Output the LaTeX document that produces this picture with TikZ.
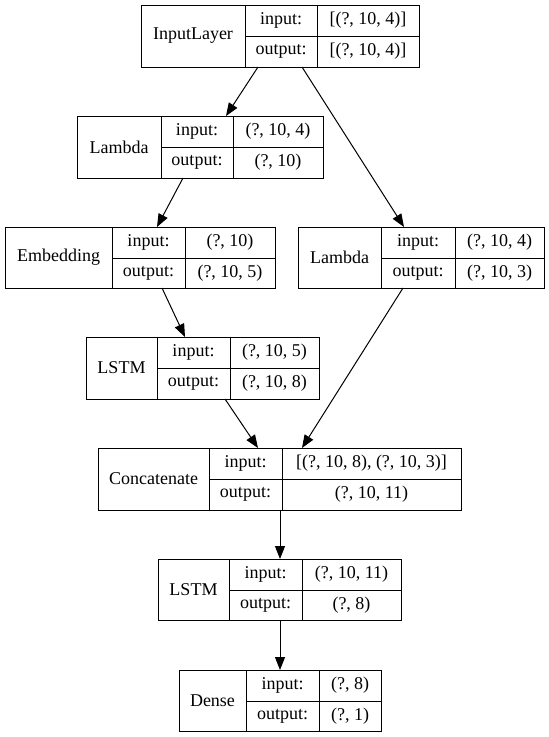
\documentclass[tikz,border=0pt]{standalone}
\usepackage{fontspec}
\setmainfont{Liberation Serif}
\usetikzlibrary{arrows.meta}
\tikzset{
  cellbox/.style={draw=black, line width=1pt, inner sep=0pt, outer sep=0pt,
    font=\fontsize{18}{21}\selectfont, anchor=center},
  conn/.style={draw=black, line width=1pt, -{Triangle[length=13pt,width=10pt]}}
}
\newcommand{\cell}[6]{\node[cellbox, minimum width={#4-#2}, minimum height={#5-#3}] (#1) at ({(#2+#4)/2},{(#3+#5)/2}) {#6};}
\begin{document}
\begin{tikzpicture}[x=1pt,y=-1pt]
\useasboundingbox (0,0) rectangle (549,737);
% InputLayer
\cell{inp-n}{141}{5}{245}{67}{InputLayer}
\cell{inp-li}{245}{5}{317}{36}{input:}
\cell{inp-lo}{245}{36}{317}{67}{output:}
\cell{inp-vi}{317}{5}{419}{36}{[(?, 10, 4)]}
\cell{inp-vo}{317}{36}{419}{67}{[(?, 10, 4)]}
% Lambda 1
\cell{lam1-n}{77}{116}{161}{178}{Lambda}
\cell{lam1-li}{161}{116}{233}{147}{input:}
\cell{lam1-lo}{161}{147}{233}{178}{output:}
\cell{lam1-vi}{233}{116}{323}{147}{(?, 10, 4)}
\cell{lam1-vo}{233}{147}{323}{178}{(?, 10)}
% Embedding
\cell{emb-n}{5}{227}{112}{288}{Embedding}
\cell{emb-li}{112}{227}{185}{258}{input:}
\cell{emb-lo}{112}{258}{185}{288}{output:}
\cell{emb-vi}{185}{227}{275}{258}{(?, 10)}
\cell{emb-vo}{185}{258}{275}{288}{(?, 10, 5)}
% Lambda 2
\cell{lam2-n}{298}{227}{381}{288}{Lambda}
\cell{lam2-li}{381}{227}{455}{258}{input:}
\cell{lam2-lo}{381}{258}{455}{288}{output:}
\cell{lam2-vi}{455}{227}{544}{258}{(?, 10, 4)}
\cell{lam2-vo}{455}{258}{544}{288}{(?, 10, 3)}
% LSTM 1
\cell{ls1-n}{86}{337}{157}{399}{LSTM}
\cell{ls1-li}{157}{337}{230}{368}{input:}
\cell{ls1-lo}{157}{368}{230}{399}{output:}
\cell{ls1-vi}{230}{337}{319}{368}{(?, 10, 5)}
\cell{ls1-vo}{230}{368}{319}{399}{(?, 10, 8)}
% Concatenate
\cell{cat-n}{98}{448}{209}{510}{Concatenate}
\cell{cat-li}{209}{448}{282}{479}{input:}
\cell{cat-lo}{209}{479}{282}{510}{output:}
\cell{cat-vi}{282}{448}{461}{479}{[(?, 10, 8), (?, 10, 3)]}
\cell{cat-vo}{282}{479}{461}{510}{(?, 10, 11)}
% LSTM 2
\cell{ls2-n}{158}{559}{229}{620}{LSTM}
\cell{ls2-li}{229}{559}{302}{590}{input:}
\cell{ls2-lo}{229}{590}{302}{620}{output:}
\cell{ls2-vi}{302}{559}{401}{590}{(?, 10, 11)}
\cell{ls2-vo}{302}{590}{401}{620}{(?, 8)}
% Dense
\cell{den-n}{179}{670}{246}{731}{Dense}
\cell{den-li}{246}{670}{319}{701}{input:}
\cell{den-lo}{246}{701}{319}{731}{output:}
\cell{den-vi}{319}{670}{381}{701}{(?, 8)}
\cell{den-vo}{319}{701}{381}{731}{(?, 1)}
% connectors
\draw[conn] ([xshift=13pt]inp-lo.south west) -- ([xshift=65pt]lam1-li.north west);
\draw[conn] ([xshift=57pt]inp-lo.south west) -- ([xshift=23pt]lam2-li.north west);
\draw[conn] ([xshift=22pt]lam1-lo.south west) -- ([xshift=45pt]emb-li.north west);
\draw[conn] ([xshift=50pt]emb-lo.south west) -- ([xshift=28pt]ls1-li.north west);
\draw[conn] ([xshift=22pt]lam2-lo.south west) -- ([xshift=20pt]cat-vi.north west);
\draw[conn] ([xshift=68pt]ls1-lo.south west) -- ([xshift=49pt]cat-li.north west);
\draw[conn] ([xshift=71pt]cat-lo.south west) -- ([xshift=51pt]ls2-li.north west);
\draw[conn] ([xshift=51pt]ls2-lo.south west) -- ([xshift=34pt]den-li.north west);
\end{tikzpicture}
\end{document}
